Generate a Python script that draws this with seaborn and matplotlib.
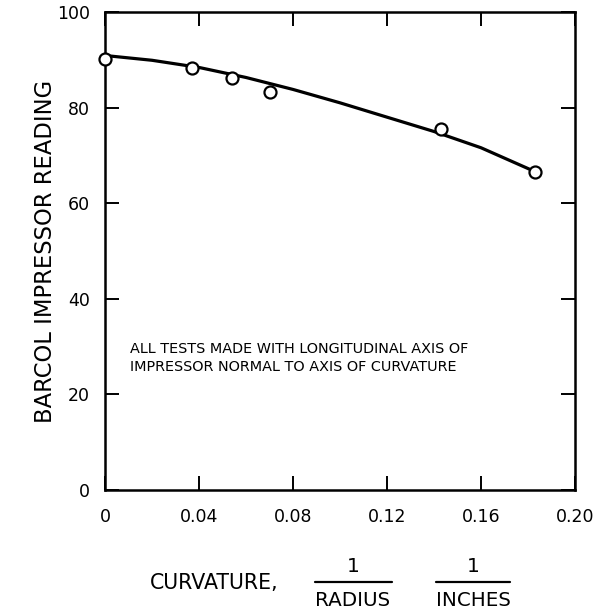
import numpy as np
import pandas as pd
import matplotlib
matplotlib.use("Agg")
import matplotlib.pyplot as plt
import seaborn as sns
from matplotlib.lines import Line2D

# ======= data =======
curvature_pts = [0.0, 0.037, 0.054, 0.070, 0.143, 0.183]
barcol_pts = [90.2, 88.2, 86.2, 83.3, 75.5, 66.5]

# smooth faired curve drawn through the points
curve_x = [0.0, 0.02, 0.04, 0.06, 0.08, 0.10, 0.12, 0.14, 0.16, 0.183]
curve_y = [90.9, 89.9, 88.4, 86.3, 83.8, 81.0, 78.0, 75.0, 71.6, 66.6]

x_ticks = [0, 0.04, 0.08, 0.12, 0.16, 0.20]
x_tick_labels = ["0", "0.04", "0.08", "0.12", "0.16", "0.20"]
y_ticks = [0, 20, 40, 60, 80, 100]

note = ("ALL TESTS MADE WITH LONGITUDINAL AXIS OF\n"
        "IMPRESSOR NORMAL TO AXIS OF CURVATURE")

pts = pd.DataFrame({"curvature": curvature_pts, "barcol": barcol_pts})
curve = pd.DataFrame({"curvature": curve_x, "barcol": curve_y})

sns.set_theme(style="ticks")
plt.rcParams['font.family'] = ['DejaVu Sans']
plt.rcParams['text.color'] = 'black'
plt.rcParams['axes.labelcolor'] = 'black'

W, H = 596, 612
fig = plt.figure(figsize=(W / 100, H / 100), dpi=100)
ax = fig.add_axes([105 / W, 1 - 490 / H, (575 - 105) / W, (490 - 12) / H])

sns.lineplot(data=curve, x="curvature", y="barcol", ax=ax, color="black",
             linewidth=2.3, sort=True, zorder=2)
sns.scatterplot(data=pts, x="curvature", y="barcol", ax=ax, s=75,
                facecolor="white", edgecolor="black", linewidth=1.6,
                zorder=3, clip_on=False)

ax.set_xlim(0, 0.20)
ax.set_ylim(0, 100)
ax.set_xticks(x_ticks)
ax.set_xticklabels(x_tick_labels)
ax.set_yticks(y_ticks)
ax.tick_params(direction="in", length=10, width=1.4, top=True, right=True,
               labelsize=12.5, colors="black")
ax.tick_params(axis="x", pad=13)
ax.tick_params(axis="y", pad=11)
for sp in ax.spines.values():
    sp.set_linewidth(1.8)
    sp.set_color("black")
ax.set_xlabel("")
ax.set_ylabel("BARCOL IMPRESSOR READING", fontsize=16.3, va="center")
ax.yaxis.set_label_coords((45 - 105) / 470, 0.5)

ax.text(0.0106, 31, note, fontsize=10.4, va="top", ha="left",
        linespacing=1.4)

# x label with the fractions written as stacked text
def fx(px):
    return px / W

def fy(py):
    return 1 - py / H

fig.text(fx(150), fy(583), "CURVATURE,", fontsize=14.8, va="center", ha="left")
for cx, x0, x1, den in [(353, 315, 392, "RADIUS"), (473, 436, 510, "INCHES")]:
    fig.text(fx(cx), fy(566), "1", fontsize=14.5, va="center", ha="center")
    fig.add_artist(Line2D([fx(x0), fx(x1)], [fy(581.5), fy(581.5)],
                          transform=fig.transFigure, color="black", lw=1.6))
    fig.text(fx(cx), fy(600), den, fontsize=14.3, va="center", ha="center")

plt.savefig("out.png", dpi=100)
